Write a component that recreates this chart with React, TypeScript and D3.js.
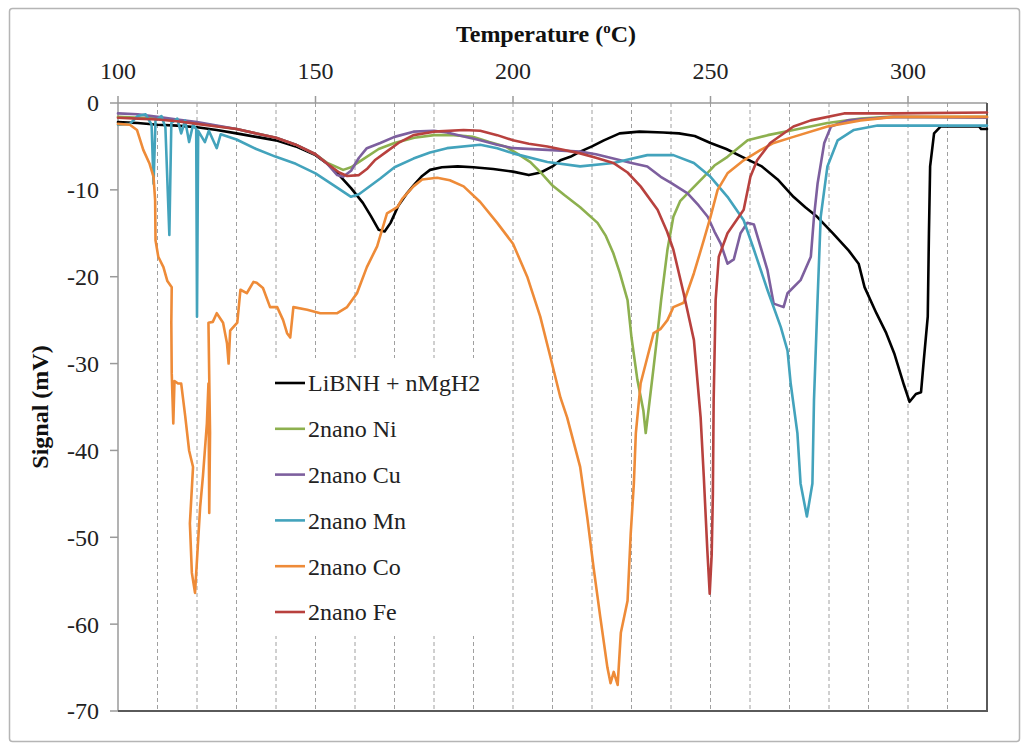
import * as d3 from 'd3';

// Temperature (°C) vs signal (mV)
const blackData: [number, number][] = [
  [100, -2.2], [105, -2.3], [110, -2.5], [115, -2.6], [120, -2.8], [125, -3.1], [130, -3.5], [135, -3.9],
  [140, -4.3], [145, -5.0], [150, -6.0], [153, -7.0], [156, -8.3], [159, -9.8], [162, -11.5], [164, -13.0],
  [166, -14.6], [167.5, -14.8], [169, -13.8], [171, -11.8], [173, -10.5], [175, -9.4], [177, -8.4], [179, -7.7],
  [182, -7.4], [186, -7.3], [190, -7.4], [195, -7.6], [200, -7.9], [204, -8.3], [207, -8.0], [210, -7.3],
  [212, -6.6], [214.5, -6.2], [217, -5.6], [220, -5.0], [223, -4.3], [227, -3.5], [232, -3.3], [238, -3.4],
  [242, -3.5], [246, -3.8], [250, -4.6], [254, -5.3], [258, -6.2], [263, -7.3], [267, -8.8], [271, -10.8],
  [274, -12.0], [277, -13.1], [281, -15.0], [285, -17.0], [287.5, -18.5], [289, -21.2], [292, -24.2],
  [294.5, -26.5], [296.5, -28.8], [299, -32.5], [300.4, -34.4], [302, -33.5], [303.3, -33.3], [304, -29.6],
  [305, -24.6], [305.3, -15], [305.6, -7.3], [306.6, -3.5], [308.3, -2.7], [318, -2.7], [318.5, -3.0], [320, -3.0],
];

const niData: [number, number][] = [
  [100, -1.6], [110, -1.8], [120, -2.3], [130, -3.0], [140, -4.0], [145, -4.8], [150, -5.9], [153, -6.9],
  [157, -7.7], [159, -7.4], [162, -6.5], [166, -5.3], [170, -4.6], [175, -4.0], [180, -3.7], [185, -3.7],
  [190, -3.9], [194, -4.5], [198, -5.0], [201, -5.8], [204.4, -6.8], [207, -8.0], [210, -9.5], [213, -10.6],
  [217, -12.0], [221.4, -13.8], [223.5, -15.3], [225.4, -17.3], [227, -19.5], [229, -22.7], [230, -27],
  [231.5, -31.9], [233, -35.4], [233.6, -38], [234.4, -35], [235.6, -30.4], [236.6, -26.5], [237.5, -22.7],
  [239.1, -16.9], [240.6, -13.1], [242.3, -11.3], [244.2, -10.4], [248.3, -8.5], [251, -7.2], [254.3, -6.2],
  [259.4, -4.3], [264.5, -3.7], [271, -3.1], [279.6, -2.3], [288, -1.8], [295, -1.6], [320, -1.6],
];

const cuData: [number, number][] = [
  [100, -1.2], [105, -1.3], [110, -1.6], [115, -1.9], [120, -2.2], [125, -2.6], [130, -3.0], [135, -3.5],
  [140, -4.0], [145, -4.8], [150, -5.9], [153, -7.0], [155.5, -8.3], [157, -8.5], [159, -7.8], [161, -6.3],
  [163, -5.2], [166.4, -4.6], [170, -3.9], [174.8, -3.3], [180, -3.2], [183.3, -3.4], [187, -3.8],
  [191.7, -4.3], [196, -4.8], [200, -5.2], [208.7, -5.4], [217, -5.6], [221, -5.9], [225.4, -6.4], [230, -6.9],
  [234, -7.3], [237.4, -8.5], [240, -9.2], [244.2, -10.4], [247, -11.8], [249.3, -13.1], [251, -14.8],
  [252.6, -16.2], [254.3, -18.5], [255.9, -18], [257.6, -15], [259.3, -13.8], [261, -14], [262.7, -16.6],
  [264.4, -19.2], [266, -23.1], [268.5, -23.5], [269.5, -21.9], [272.8, -20.4], [275.4, -17.7], [276.2, -13.1],
  [277.1, -9.3], [278.8, -4.6], [280.5, -2.7], [284.7, -2.0], [296.4, -1.6], [320, -1.7],
];

const mnData: [number, number][] = [
  [100, -2.5], [103, -2.4], [105, -1.5], [107, -1.3], [108.5, -2.5], [109, -9.3], [109.5, -2.0], [111, -1.5],
  [112, -2.8], [113, -15.2], [113.5, -2.3], [115, -1.8], [116, -3.5], [117, -2.0], [118, -4.5], [119, -2.5],
  [119.8, -3], [120, -24.6], [120.3, -3.2], [122, -4.5], [123, -3.2], [125, -5.2], [126, -3.6], [130, -4.2],
  [135, -5.3], [140, -6.2], [145, -7.0], [150, -8.1], [155, -9.6], [159, -10.8], [161, -10.5], [164, -9.5],
  [166.4, -8.7], [170, -7.4], [174.8, -6.4], [179, -5.7], [183.3, -5.2], [191.7, -4.8], [196, -5.2],
  [200, -5.8], [208.7, -6.8], [217, -7.3], [225.4, -6.9], [234, -6.0], [240.6, -6.0], [245.8, -6.9],
  [250, -8.5], [254.3, -10.8], [258.4, -13.5], [261, -16.9], [264.4, -21.5], [267.8, -25.8], [269.5, -28.5],
  [270.3, -32.3], [272, -38], [272.8, -43.8], [274.4, -47.6], [275.8, -43.8], [276.2, -34.2], [277.1, -22.7],
  [277.9, -13.1], [279.6, -7.3], [282.2, -4.3], [286.3, -3.1], [292.3, -2.6], [320, -2.6],
];

const coData: [number, number][] = [
  [100, -2.4], [103, -2.5], [104.8, -3.1], [106.4, -5.4], [108, -7], [109, -8.5], [109.4, -11.2], [109.5, -15.8],
  [110.2, -17.7], [111.5, -18.9], [112.5, -20.5], [113.6, -21.2], [113.5, -25.3], [113.6, -31.1], [114, -36.9],
  [114.3, -32], [115.2, -32.3], [116, -32.3], [117, -36], [118, -40], [119, -41.9], [118.2, -48.4],
  [118.7, -54.1], [119.5, -56.4], [120.3, -50.3], [120.8, -46.5], [121.5, -43], [122.5, -36.9], [122.9, -32.3],
  [123.1, -47.2], [123.3, -38], [122.9, -25.3], [124, -25.2], [125, -24.2], [126.6, -25.3], [127.6, -27.7],
  [128, -30], [128.4, -26.2], [130.2, -25.3], [131, -21.5], [132.6, -21.9], [134.3, -20.6], [135.1, -20.7],
  [136.7, -21.3], [138.5, -23.5], [140.3, -23.5], [141.8, -25], [142.8, -26.5], [143.6, -27], [144.4, -23.5],
  [147.9, -23.8], [151.2, -24.2], [155.5, -24.2], [158, -23.5], [160.5, -21.9], [163, -18.9], [165.6, -16.5],
  [168.1, -12.7], [170.7, -12], [172, -11], [174.8, -9.6], [177, -8.8], [180.8, -8.6], [184, -8.9],
  [187.5, -9.6], [191.7, -11.4], [196, -13.8], [200, -16.2], [203.6, -20], [206.9, -24.6], [209.5, -29.3],
  [212, -33.9], [213.7, -36.2], [217, -41.9], [218.8, -47.7], [220.4, -53.5], [222.1, -59.2], [223.9, -65],
  [224.7, -66.8], [225.5, -65.5], [226.5, -67], [227.3, -61], [229, -57.3], [229.8, -49.6], [230.6, -43.8],
  [231.1, -38], [232.3, -32.3], [234, -29.3], [235.6, -26.5], [237.4, -26], [239.1, -25], [240.6, -23.5],
  [243.2, -23], [245.8, -19.6], [248.3, -15.8], [250, -13.1], [251.8, -10], [254.3, -8.1], [258.4, -6.6],
  [262.7, -5.4], [266, -4.6], [271, -3.9], [279.6, -2.7], [288, -2.0], [296.4, -1.6], [320, -1.6],
];

const feData: [number, number][] = [
  [100, -1.7], [105, -1.8], [110, -1.9], [115, -2.1], [120, -2.4], [125, -2.7], [130, -3.0], [135, -3.5],
  [140, -4.0], [145, -4.8], [150, -5.9], [153, -7.0], [156, -8.0], [158, -8.4], [161, -8.3], [163, -7.6],
  [165, -6.6], [168, -5.6], [171, -4.6], [174.8, -3.7], [180, -3.3], [187.5, -3.1], [191.7, -3.2], [196, -3.7],
  [200, -4.3], [204, -4.7], [208.7, -5.0], [213, -5.4], [217, -5.8], [221, -6.3], [225.4, -6.9], [229, -8.0],
  [232.3, -9.6], [236.6, -12.3], [239, -14.8], [240.6, -16.9], [243.2, -21.9], [245.8, -27.3], [247.5, -36.2],
  [248.3, -43], [249.2, -51.5], [249.8, -56.5], [250.3, -52], [250.6, -45], [250.8, -34.2], [251.3, -22.7],
  [252.1, -17.7], [254.3, -15], [258.4, -12.3], [260.1, -8.5], [261.8, -6.6], [265.1, -4.6], [271, -2.7],
  [275.4, -2.0], [283.8, -1.2], [296.4, -1.2], [320, -1.1],
];

const seriesNames = ['LiBNH + nMgH2', '2nano Ni', '2nano Cu', '2nano Mn', '2nano Co', '2nano Fe'];
const seriesColors = ['#000000', '#8db04f', '#7d5f9e', '#43a3bc', '#ee8b38', '#b8413e'];
const seriesData = [blackData, niData, cuData, mnData, coData, feData];

const xMajorTicks = [100, 150, 200, 250, 300];
const xGridTicks = [110, 120, 130, 140, 150, 160, 170, 180, 190, 200, 210, 220, 230, 240, 250, 260, 270, 280, 290, 300, 310];
const yTicks = [0, -10, -20, -30, -40, -50, -60, -70];

const FONT = '"Liberation Serif", "Times New Roman", serif';

export default function App() {
  const left = 118;
  const right = 987;
  const top = 103;
  const bottom = 711;

  const x = d3.scaleLinear().domain([100, 320]).range([left, right]);
  const y = d3.scaleLinear().domain([-70, 0]).range([bottom, top]);

  const line = d3
    .line<[number, number]>()
    .x((d) => x(d[0]))
    .y((d) => y(d[1]));

  const legendX = 275;
  const legendY0 = 383;
  const legendStep = 45.8;

  return (
    <svg
      width={1024}
      height={748}
      style={{ position: 'absolute', left: 0, top: 0, background: '#fff' }}
      fontFamily={FONT}
    >
      <rect x={0} y={0} width={1024} height={748} fill="#fff" />
      <rect x={9.5} y={8.5} width={1010} height={733} rx={3} fill="#fff" stroke="#b5b5b5" strokeWidth={1.5} />

      {/* vertical dashed gridlines */}
      {xGridTicks.map((t) => (
        <line
          key={'g' + t}
          x1={x(t)}
          x2={x(t)}
          y1={top}
          y2={bottom}
          stroke="#a0a0a0"
          strokeWidth={1}
          strokeDasharray="4,3"
        />
      ))}

      {/* axes */}
      <line x1={left} x2={right} y1={top} y2={top} stroke="#9a9a9a" strokeWidth={1.5} />
      <line x1={left} x2={left} y1={top} y2={bottom} stroke="#9a9a9a" strokeWidth={1.5} />
      <line x1={left} x2={right + 1} y1={bottom} y2={bottom} stroke="#5a5a5a" strokeWidth={2} />
      <line x1={right} x2={right} y1={top} y2={bottom} stroke="#5a5a5a" strokeWidth={2} />

      {xMajorTicks.map((t) => (
        <g key={'xt' + t}>
          <line x1={x(t)} x2={x(t)} y1={top} y2={top - 7} stroke="#9a9a9a" strokeWidth={1.5} />
          <text x={x(t)} y={79} textAnchor="middle" fontSize={24} fill="#222">
            {t}
          </text>
        </g>
      ))}

      {yTicks.map((t) => (
        <g key={'yt' + t}>
          <line x1={left - 8} x2={left} y1={y(t)} y2={y(t)} stroke="#9a9a9a" strokeWidth={1.5} />
          <text x={99} y={y(t)} dy="0.35em" textAnchor="end" fontSize={24} fill="#222">
            {t}
          </text>
        </g>
      ))}

      {/* series */}
      {seriesData.map((d, i) => (
        <path
          key={'s' + i}
          d={line(d) || ''}
          fill="none"
          stroke={seriesColors[i]}
          strokeWidth={2.6}
          strokeLinejoin="round"
          strokeLinecap="round"
        />
      ))}

      {/* legend */}
      <rect x={268} y={358} width={236} height={278} fill="#fff" />
      {seriesNames.map((name, i) => (
        <g key={'l' + i}>
          <line
            x1={legendX}
            x2={legendX + 30}
            y1={legendY0 + i * legendStep}
            y2={legendY0 + i * legendStep}
            stroke={seriesColors[i]}
            strokeWidth={2.6}
          />
          <text x={legendX + 33} y={legendY0 + i * legendStep} dy="0.35em" fontSize={24} fill="#222">
            {name}
          </text>
        </g>
      ))}

      {/* titles */}
      <text x={546} y={42} textAnchor="middle" fontSize={24} fontWeight="bold" fill="#111">
        Temperature (
        <tspan fontSize={15} dy={-9}>
          o
        </tspan>
        <tspan dy={9}>C)</tspan>
      </text>
      <text
        transform={`translate(48, ${(top + bottom) / 2}) rotate(-90)`}
        textAnchor="middle"
        fontSize={24}
        fontWeight="bold"
        fill="#111"
      >
        Signal (mV)
      </text>
    </svg>
  );
}
